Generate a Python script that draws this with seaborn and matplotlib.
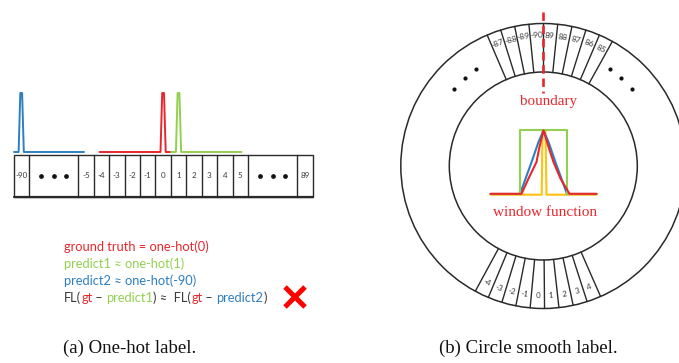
import numpy as np
import pandas as pd
import matplotlib
matplotlib.use("Agg")
import matplotlib.pyplot as plt
import seaborn as sns
from matplotlib.patches import Circle, Rectangle

# ---------------- data ----------------
onehot_labels = ["-90", "dots", "-5", "-4", "-3", "-2", "-1", "0", "1", "2", "3", "4", "5", "dots", "89"]
onehot_units = [1, 3.2, 1, 1, 1, 1, 1, 1, 1, 1, 1, 1, 1, 3.2, 1]
spike_series = ["ground truth", "predict1", "predict2"]
spike_cells = ["0", "1", "-90"]

ring_top_labels = ["-87", "-88", "-89", "-90", "89", "88", "87", "86", "85"]
ring_bottom_labels = ["-4", "-3", "-2", "-1", "0", "1", "2", "3", "4"]

# window functions: horizontal offset (px from centre) and relative height
rect_off = [-53, -23.5, -23.5, 23.5, 23.5, 53]
rect_h = [0, 0, 1, 1, 0, 0]
tri_off = [-53, -23.5, -12, -5, 0, 5, 12, 23.5, 53]
tri_h = [0, 0, 0.5, 0.82, 1, 0.82, 0.5, 0, 0]
gauss_off = [-53, -22, -15, -7, -4, 0, 5, 10, 17, 26, 53]
gauss_h = [0, 0, 0.24, 0.5, 0.74, 1, 0.74, 0.5, 0.24, 0, 0]
pulse_off = [-53, -1.8, -1, 2, 3, 53]
pulse_h = [0, 0, 1, 1, 0, 0]

caption_a = "(a) One-hot label."
caption_b = "(b) Circle smooth label."

# ---------------- style ----------------
RED = "#e8262c"
GREEN = "#92d050"
BLUE = "#2e7fc0"
YELLOW = "#ffc20e"
GRAY = "#3a3a3a"
LINE = "#2a2a2a"

sns.set_theme(style="white")
plt.rcParams["font.family"] = ["Lato", "DejaVu Sans"]

fig = plt.figure(figsize=(6.79, 3.63), dpi=100)
ax = fig.add_axes([0, 0, 1, 1])

# ---------------- (a) one-hot label ----------------
BOX_L, BOX_R, BOX_T, BOX_B = 13.5, 312.7, 155, 197
unit = (BOX_R - BOX_L) / sum(onehot_units)
edges = BOX_L + np.concatenate([[0], np.cumsum(onehot_units)]) * unit
centers = (edges[:-1] + edges[1:]) / 2

ax.add_patch(Rectangle((BOX_L, BOX_T), BOX_R - BOX_L, BOX_B - BOX_T,
                       fill=False, edgecolor=LINE, linewidth=1.0))
ax.plot([BOX_L, BOX_R], [BOX_B, BOX_B], color=LINE, linewidth=1.6)
for e in edges[1:-1]:
    ax.plot([e, e], [BOX_T, BOX_B], color=LINE, linewidth=1.0)
for lab, c in zip(onehot_labels, centers):
    if lab == "dots":
        ax.plot([c - 12.5, c, c + 12.5], [176, 176, 176], linestyle="none",
                marker="o", markersize=2.4, color="#111111")
    else:
        ax.text(c, 176, lab, ha="center", va="center", fontsize=5.8, color=GRAY)

# spikes (one-hot distributions)
SP_BASE, SP_TOP = 152, 93
spike_colors = {"ground truth": RED, "predict1": GREEN, "predict2": BLUE}
base_extent = {"ground truth": (99.5, 171), "predict1": (171, 241.5), "predict2": (14, 84)}
spike_shape_off = [-2.6, -0.9, 0.9, 2.6]
spike_shape_h = [0, 1, 1, 0]
for name, cell in zip(spike_series, spike_cells):
    c = centers[onehot_labels.index(cell)]
    x0, x1 = base_extent[name]
    xs = [x0] + [c + o for o in spike_shape_off] + [x1]
    ys = [SP_BASE] + [SP_BASE - h * (SP_BASE - SP_TOP) for h in spike_shape_h] + [SP_BASE]
    df = pd.DataFrame({"x": xs, "y": ys})
    sns.lineplot(data=df, x="x", y="y", sort=False, estimator=None, ax=ax,
                 color=spike_colors[name], linewidth=1.4)

# text lines
def chain(x, y, parts, fs=9.3):
    prev = None
    for s, col in parts:
        if prev is None:
            prev = ax.text(x, y, s, color=col, ha="left", va="center", fontsize=fs)
        else:
            prev = ax.annotate(s, xy=(1, 0), xycoords=prev, ha="left", va="bottom",
                               color=col, fontsize=fs)

TX = 64
chain(TX, 247, [("ground truth = one-hot(0)", RED)])
chain(TX, 264, [("predict1 \u2248 one-hot(1)", GREEN)])
chain(TX, 281, [("predict2 \u2248 one-hot(-90)", BLUE)])
chain(TX, 298, [("FL(", GRAY), ("gt", RED), (" \u2013 ", GRAY), ("predict1", GREEN),
                (") \u2248  FL(", GRAY), ("gt", RED), (" \u2013 ", GRAY),
                ("predict2", BLUE), (")", GRAY)])

# red cross
XC, YC, XS = 295, 297, 10
ax.plot([XC - XS, XC + XS], [YC - XS, YC + XS], color="#ff0000", linewidth=3.6,
        solid_capstyle="butt")
ax.plot([XC - XS, XC + XS], [YC + XS, YC - XS], color="#ff0000", linewidth=3.6,
        solid_capstyle="butt")

# ---------------- (b) circle smooth label ----------------
CX, CY = 543.3, 166
R_OUT, R_IN, R_LAB = 142.5, 94, 130.5
STEP = 5.8

ax.add_patch(Circle((CX, CY), R_OUT, fill=False, edgecolor=LINE, linewidth=1.1))
ax.add_patch(Circle((CX, CY), R_IN, fill=False, edgecolor=LINE, linewidth=1.1))

def pt(r, phi):
    a = np.deg2rad(phi)
    return CX + r * np.cos(a), CY - r * np.sin(a)

def radial(phi):
    x0, y0 = pt(R_IN, phi)
    x1, y1 = pt(R_OUT, phi)
    ax.plot([x0, x1], [y0, y1], color=LINE, linewidth=1.0)

# top cells
for k in range(len(ring_top_labels) + 1):
    radial(90 + (4 - k) * STEP)
for i, lab in enumerate(ring_top_labels):
    phi = 90 + (3.5 - i) * STEP
    x, y = pt(R_LAB, phi)
    ax.text(x, y, lab, ha="center", va="center", rotation=phi - 90,
            rotation_mode="anchor", fontsize=6.0, color=GRAY)

# bottom cells
BOT = -89.5
for k in range(len(ring_bottom_labels) + 1):
    radial(BOT - (5 - k) * STEP)
for i, lab in enumerate(ring_bottom_labels):
    phi = BOT - (4.5 - i) * STEP
    x, y = pt(R_LAB - 1, phi)
    ax.text(x, y, lab, ha="center", va="center", rotation=phi + 90,
            rotation_mode="anchor", fontsize=5.8, color=GRAY)

# dots on ring
for phis in ([124.5, 131.5, 139], [55.5, 48.5, 41]):
    xs, ys = zip(*[pt(118, p) for p in phis])
    ax.plot(xs, ys, linestyle="none", marker="o", markersize=2.0, color="#111111")

# boundary
ax.plot([CX, CX], [12, 93], color="#e8262c", linewidth=1.9, linestyle=(0, (3.2, 1.8)))
ax.text(548, 101, "boundary", ha="center", va="center", color=RED, fontsize=10.8,
        family="Liberation Serif")

# window functions
WX, WB, WT = 543.5, 193.5, 130
win = [(pulse_off, pulse_h, YELLOW, 1.2), (tri_off, tri_h, BLUE, 0.5),
       (rect_off, rect_h, GREEN, 0.0), (gauss_off, gauss_h, RED, 0.3)]
for offs, hs, col, dy in win:
    df = pd.DataFrame({"x": [WX + o for o in offs],
                       "y": [WB + dy - h * (WB - WT) for h in hs]})
    sns.lineplot(data=df, x="x", y="y", sort=False, estimator=None, ax=ax,
                 color=col, linewidth=1.5)
ax.text(545, 213, "window function", ha="center", va="center", color=RED,
        fontsize=11.0, family="Liberation Serif")

# captions
ax.text(130, 348, caption_a, ha="center", va="center", fontsize=13.5,
        family="Liberation Serif", color="#111111")
ax.text(528, 348, caption_b, ha="center", va="center", fontsize=13.5,
        family="Liberation Serif", color="#111111")

ax.set_xlim(0, 679)
ax.set_ylim(363, 0)
ax.set_xlabel("")
ax.set_ylabel("")
ax.axis("off")
fig.savefig("out.png", dpi=100)
